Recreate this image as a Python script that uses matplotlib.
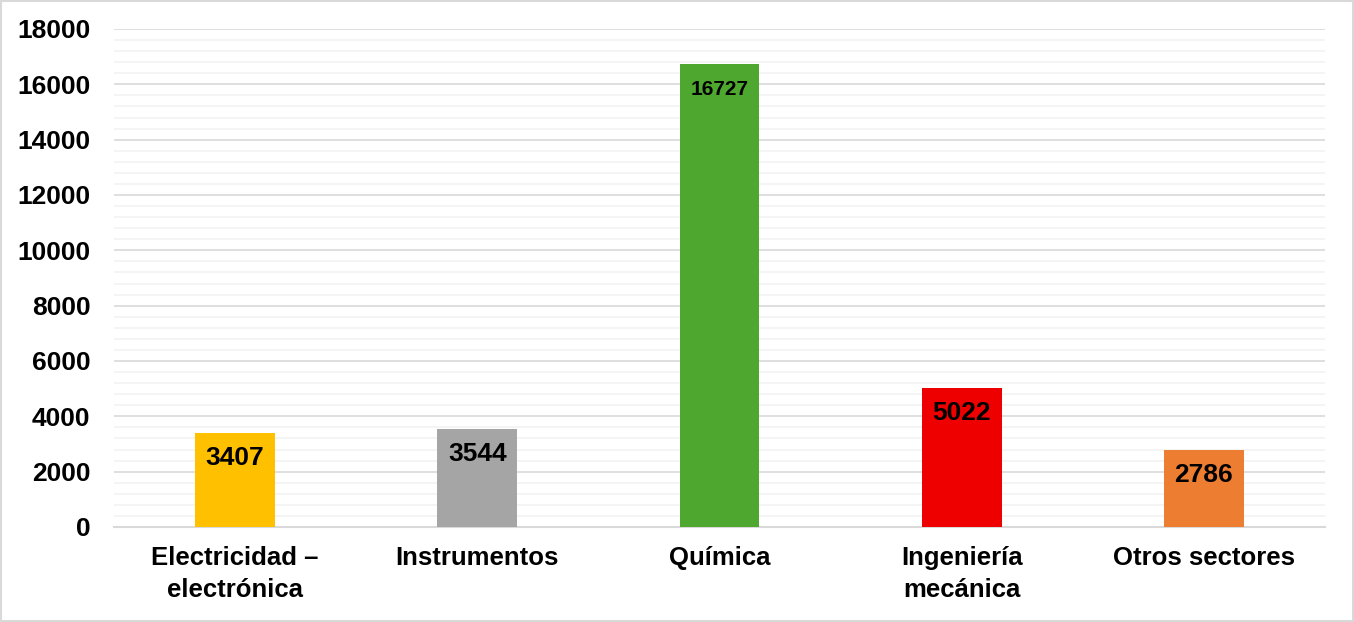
import matplotlib
matplotlib.use("Agg")
import matplotlib.pyplot as plt
from matplotlib.ticker import MultipleLocator

plt.rcParams['font.family'] = ['Liberation Sans', 'DejaVu Sans']

sectores = ["Electricidad –\nelectrónica", "Instrumentos", "Química",
            "Ingeniería\nmecánica", "Otros sectores"]
valores = [3407, 3544, 16727, 5022, 2786]
colores = ["#FFC000", "#A5A5A5", "#4EA72E", "#EE0000", "#ED7D31"]
yticks = [0, 2000, 4000, 6000, 8000, 10000, 12000, 14000, 16000, 18000]

fig = plt.figure(figsize=(13.54, 6.22), dpi=100)
ax = fig.add_axes([114 / 1354, 1 - 527 / 622, 1211 / 1354, 498 / 622])

x = range(len(sectores))
bars = ax.bar(x, valores, width=0.33, color=colores, zorder=3)

ax.set_xlim(-0.5, len(sectores) - 0.5)
ax.set_ylim(0, 18000)
ax.set_yticks(yticks)
ax.yaxis.set_minor_locator(MultipleLocator(400))
ax.grid(axis='y', which='major', color='#D9D9D9', linewidth=1.2, zorder=0)
ax.grid(axis='y', which='minor', color='#F2F2F2', linewidth=1.2, zorder=0)
ax.tick_params(axis='y', which='both', length=0, pad=17, labelsize=19)
ax.tick_params(axis='x', length=0, pad=14, labelsize=18.5)
for lab in ax.get_yticklabels():
    lab.set_fontweight('bold')

ax.set_xticks(list(x))
ax.set_xticklabels(sectores, fontweight='bold', linespacing=1.4, va='top')

for s in ['top', 'right', 'left']:
    ax.spines[s].set_visible(False)
ax.spines['bottom'].set_color('#D9D9D9')
ax.spines['bottom'].set_linewidth(1.5)

for b, v in zip(bars, valores):
    fs = 15 if v > 10000 else 19
    ax.annotate(str(v), xy=(b.get_x() + b.get_width() / 2, v),
                xytext=(0, -25), textcoords='offset pixels',
                ha='center', va='center', fontsize=fs, fontweight='bold', zorder=4)

fig.patches.append(plt.Rectangle((0.0007, 0.0015), 0.9986, 0.997, transform=fig.transFigure,
                                 fill=False, edgecolor='#D9D9D9', linewidth=1.5))

fig.savefig("out.png", dpi=100)
